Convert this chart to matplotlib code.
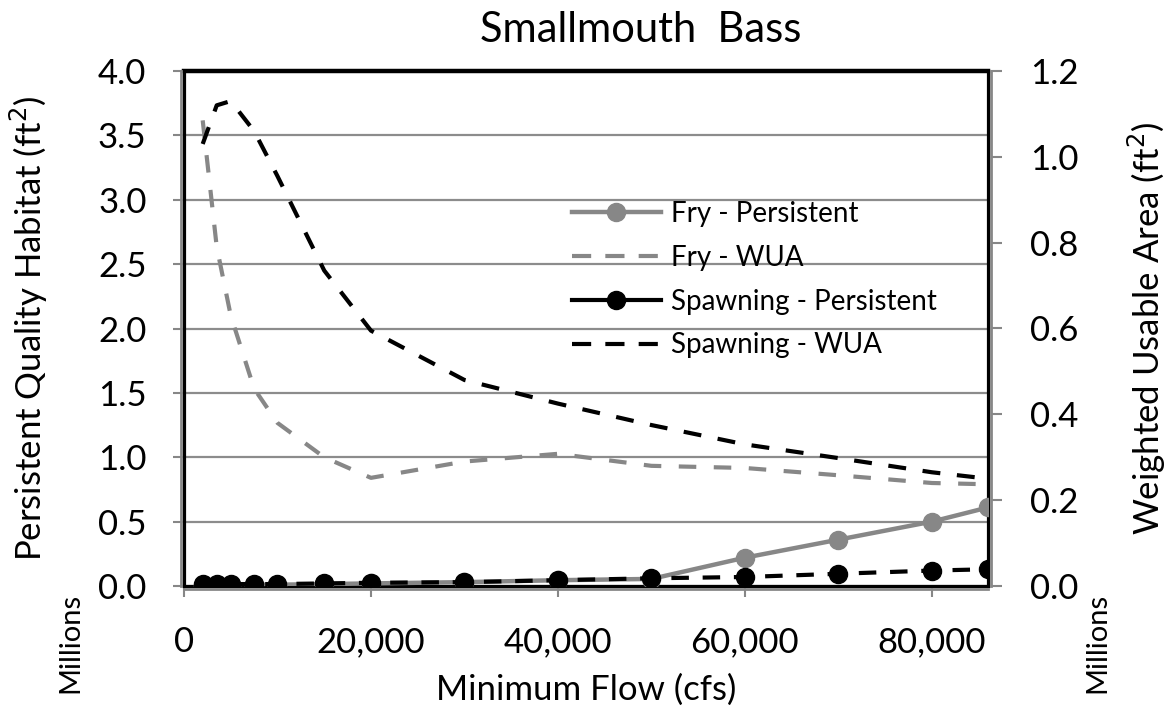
import matplotlib
matplotlib.use('Agg')
import matplotlib.pyplot as plt
from matplotlib.lines import Line2D
from matplotlib.ticker import MultipleLocator, StrMethodFormatter

plt.rcParams['font.family'] = ['Lato', 'DejaVu Sans']

# minimum flow (cfs)
flow = [2000, 3500, 5000, 7500, 10000, 15000, 20000, 30000, 40000, 50000,
        60000, 70000, 80000, 86000]

# persistent quality habitat, millions ft2 (left axis)
fry_persist = [0.01, 0.01, 0.01, 0.01, 0.01, 0.015, 0.02, 0.03, 0.045, 0.055,
               0.22, 0.36, 0.50, 0.61]
spawn_persist = [0.015, 0.015, 0.015, 0.015, 0.015, 0.02, 0.025, 0.03, 0.045,
                 0.06, 0.07, 0.095, 0.12, 0.13]

# weighted usable area, millions ft2 (right axis)
fry_wua = [1.085, 0.79, 0.63, 0.46, 0.38, 0.30, 0.252, 0.29, 0.308, 0.28,
           0.275, 0.258, 0.24, 0.237]
spawn_wua = [1.03, 1.12, 1.13, 1.06, 0.955, 0.735, 0.595, 0.48, 0.425, 0.375,
             0.33, 0.298, 0.265, 0.25]

legend_labels = ['Fry - Persistent', 'Fry - WUA',
                 'Spawning - Persistent', 'Spawning - WUA']

GREY = '#878787'
GRID = '#8c8c8c'

fig = plt.figure(figsize=(11.7, 7.11), dpi=100)
ax = fig.add_axes([184 / 1170, 1 - 586 / 711, 804 / 1170, 515 / 711])
ax2 = ax.twinx()

# left axis series
ax.plot(flow, fry_persist, color=GREY, lw=3.2, marker='o', ms=13,
        zorder=3, solid_capstyle='butt')
ax.plot(flow, spawn_persist, color='black', lw=3.0, ls=(0, (4.2, 3.3)),
        marker='o', ms=13, zorder=4)

# right axis series
ax2.plot(flow, fry_wua, color=GREY, lw=3.0, ls=(0, (4.2, 4.2)))
ax2.plot(flow, spawn_wua, color='black', lw=3.0, ls=(0, (4.3, 4.0)))

ax.set_xlim(0, 86000)
ax.set_ylim(0, 4.0)
ax2.set_ylim(0, 1.2)

ax.xaxis.set_major_locator(MultipleLocator(20000))
ax.xaxis.set_major_formatter(StrMethodFormatter('{x:,.0f}'))
ax.yaxis.set_major_locator(MultipleLocator(0.5))
ax.yaxis.set_major_formatter(StrMethodFormatter('{x:.1f}'))
ax2.yaxis.set_major_locator(MultipleLocator(0.2))
ax2.yaxis.set_major_formatter(StrMethodFormatter('{x:.1f}'))

ax.grid(axis='y', color=GRID, lw=1.6)
ax.set_axisbelow(True)

# black plot-area border, grey axis lines just outside it
for s in ax.spines.values():
    s.set_color('black')
    s.set_linewidth(2.3)
ax.spines['top'].set_linewidth(3.2)
for name, s in ax2.spines.items():
    if name == 'top':
        s.set_visible(False)
        continue
    s.set_color(GREY)
    s.set_linewidth(2.0)
    s.set_position(('outward', 2.2))

ax.tick_params(axis='both', direction='out', length=8, width=1.5,
               color=GREY, labelsize=25)
ax.tick_params(axis='y', pad=19)
ax.tick_params(axis='x', pad=21)
ax2.tick_params(axis='y', direction='out', length=8, width=1.5,
                color=GREY, labelsize=25, pad=20)

ax.set_xlabel('Minimum Flow (cfs)', fontsize=25)
ax.xaxis.set_label_coords(0.5, (586 - 674) / 515)
ax.set_ylabel('Persistent Quality Habitat (ft$^2$)', fontsize=25)
ax.yaxis.set_label_coords((50 - 184) / 804, 0.5)
ax2.set_ylabel('Weighted Usable Area (ft$^2$)', fontsize=25, rotation=90)
ax2.yaxis.set_label_coords((1126 - 184) / 804, 0.5)

fig.text(641 / 1170, 1 - 30 / 711, 'Smallmouth  Bass', fontsize=30,
         ha='center', va='center')
fig.text(70 / 1170, 1 - 643 / 711, 'Millions', fontsize=21, rotation=90,
         ha='center', va='center')
fig.text(1097 / 1170, 1 - 643 / 711, 'Millions', fontsize=21, rotation=90,
         ha='center', va='center')

handles = [
    Line2D([], [], color=GREY, lw=3.2, marker='o', ms=13),
    Line2D([], [], color=GREY, lw=3.0, ls=(0, (4.6, 3.4))),
    Line2D([], [], color='black', lw=3.0, marker='o', ms=13),
    Line2D([], [], color='black', lw=3.0, ls=(0, (4.6, 3.4))),
]
ax2.legend(handles, legend_labels, loc='upper left', frameon=False,
           bbox_to_anchor=(572 / 1170, 1 - 201 / 711),
           bbox_transform=fig.transFigure, fontsize=20, borderpad=0,
           borderaxespad=0, handlelength=3.2, handletextpad=0.35,
           labelspacing=0.64)

fig.savefig('out.png', dpi=100)
